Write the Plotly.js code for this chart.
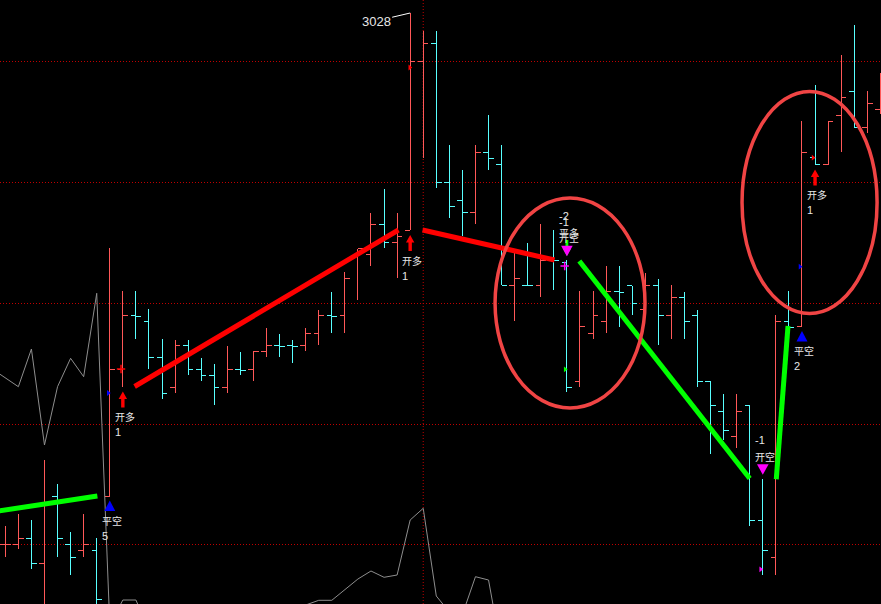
<!DOCTYPE html>
<html><head><meta charset="utf-8">
<script src="https://cdn.plot.ly/plotly-3.0.1.min.js"></script>
<style>
html,body{margin:0;padding:0;background:#000;overflow:hidden}
#chart{width:881px;height:604px}
.ohlclayer path{shape-rendering:crispEdges}
</style></head><body><div id="chart"></div>
<script>
// OHLC bars (index = bar number)
const barOpen  = [2496.5,2496.5,2502.5,2477.5,2544.5,2496.5,2490.5,2490.5,2545,2672,
  2725.5,2720,2683.5,2653.5,2695.5,2671.5,2665.5,2653.5,2671.5,2671.5,
  2689.5,2695.5,2695.5,2695.5,2707.5,2725.5,2725.5,2785,2786.5,2816.5,
  2798.5,2811,2979.5,2997.5,2858.5,2841,2828.5,2888.5,2876.5,2756,
  2756,2756,2781,2779,2659.5,2707.5,2719.5,2749.5,2755.5,2731.5,
  2755.5,2725.5,2743.5,2725.5,2659.5,2629.5,2604.5,2636,2521,2483.5,
  2720,2714.5,2883.5,2876.5,2925.5,2950,2913.5,2931.5];
const barHigh  = [2515,2527,2521,2581,2557,2509,2527,2503,2793,2750,
  2750,2732,2702,2701.5,2701.5,2683.5,2677.5,2695.5,2689.5,2689.5,
  2713.5,2707.5,2701.5,2713.5,2731.5,2749.5,2769.5,2792.5,2828.5,2852.5,
  2828.5,3028,3010,3010,2896,2871,2896,2926,2896,2792.5,
  2798.5,2817,2811,2781,2750,2750,2775,2775,2755.5,2768.5,
  2762.5,2756,2749.5,2731.5,2659.5,2647.5,2647.5,2636,2562.5,2726,
  2750,2920,2956,2920,2986,3016,2950,2968.5];
const barLow   = [2484.5,2492,2472.5,2400,2484.5,2466.5,2484.5,2400,2545,2654.5,
  2702.5,2672.5,2642.5,2648.5,2666,2660.5,2636.5,2648.5,2666.5,2660.5,
  2684.5,2684.5,2678.5,2690.5,2696.5,2708.5,2708.5,2741,2775.5,2793.5,
  2763.5,2811,2883.5,2853.5,2823.5,2805.5,2817.5,2871,2756,2720.5,
  2755.5,2744.5,2751,2649.5,2654.5,2702.5,2708.5,2714.5,2726.5,2729,
  2696.5,2702.5,2702.5,2654.5,2587.5,2601,2593.5,2515.5,2466.5,2466.5,
  2711,2714.5,2876.5,2876.5,2889.5,2913.5,2908.5,2927.5];
const barClose = [2497,2502.5,2477.5,2538,2502.5,2483.5,2496.5,2441.5,2672,2725.5,
  2725,2683.5,2647.5,2695.5,2671.5,2665.5,2653.5,2671.5,2671,2689.5,
  2695.5,2695,2695,2707.5,2725.5,2725,2762.5,2792.5,2816.5,2798.5,
  2804.5,2979.5,2997.5,2858.5,2834.5,2828.5,2888.5,2882.5,2756,2762.5,
  2755.5,2781,2780.5,2653.5,2714.5,2725.5,2749.5,2749,2737.5,2755.5,
  2725.5,2743.5,2719.5,2659.5,2635.5,2610.5,2629.5,2521,2490.5,2720,
  2714,2888.5,2876.5,2920,2943.5,2913.5,2937.5,2950];

// grey indicator line, starting at bar -1
const grayValues = [2672,2663,2654.3,2692,2596,2654.3,2682.7,2664.3,2747.7,2416,
  2441,2441,2411,2395,2390,2398,2402,2395,2400,2405,
  2410,2404,2400,2396,2436,2440.7,2440.7,2451,2462,2470,
  2463.7,2466,2521,2532.7,2445,2429,2426.5,2464.3,2461,2389];

// trend lines [bar, price]
const redTrend1   = [[9.9,2654.5],[30.1,2811]];
const redTrend2   = [[31.95,2811],[42.05,2781]];
const greenTrend1 = [[-1,2529],[7.05,2545]];
const greenTrend2 = [[43.95,2780],[57,2562.5]];
const greenTrend3 = [[59.03,2561.7],[59.93,2715]];

// ellipses [bar0, bar1, price0, price1]
const ellipse1 = [37.5,48.98,2633,2843];
const ellipse2 = [56.41,66.75,2727.5,2949.5];

// grid levels and cursor bar
const gridLevels = [2496.7,2617,2737.7,2858.7,2979.7];
const cursorBar = 32;

// signals
const signalBar  = [8,9,31,43,43,58,61,62];
const signalName = ['平空','开多','开多','开空','平多','开空','平空','开多'];
const signalNum  = ['5','1','1','-1','-2','-1','2','1'];

// small marks
const triMarkX = [7.88,30.97,42.87,57.84,60.85,61.85];
const triMarkY = [2648,2973.5,2671.7,2471.7,2774.3,2883.3];
const triMarkKind = ['平空','开多','平多','开空','平空','开多'];
const crossMarkX = [8.86,42.83];
const crossMarkY = [2672,2775];
const crossMarkKind = ['开多','开空'];

const highLabelBar = 31;

const kindColor = {'开多':'#ff0000','平空':'#0000ff','开空':'#ff00ff','平多':'#00ff00'};
const idx = barOpen.map((_, i) => i);

const traces = [];
traces.push({
  type:'scatter', mode:'lines', x: grayValues.map((_, i) => i - 1), y: grayValues,
  line:{color:'#8e8e8e', width:1}, hoverinfo:'skip'
});
traces.push({
  type:'ohlc', x: idx, open: barOpen, high: barHigh, low: barLow, close: barClose,
  increasing:{line:{color:'#ff5858', width:1}},
  decreasing:{line:{color:'#58ffff', width:1}},
  tickwidth:0.4, hoverinfo:'skip'
});
[[redTrend1,'#ff0000'],[redTrend2,'#ff0000'],[greenTrend1,'#00ff00'],[greenTrend2,'#00ff00'],[greenTrend3,'#00ff00']].forEach(([seg,c]) => {
  traces.push({type:'scatter', mode:'lines', x: seg.map(p=>p[0]), y: seg.map(p=>p[1]),
    line:{color:c, width:5}, hoverinfo:'skip'});
});
traces.push({type:'scatter', mode:'markers', x: triMarkX, y: triMarkY,
  marker:{symbol:'triangle-right', size:5, color: triMarkKind.map(k=>kindColor[k])}, hoverinfo:'skip'});
crossMarkX.forEach((cx, i) => {
  const c = kindColor[crossMarkKind[i]];
  traces.push({type:'scatter', mode:'markers', x:[cx], y:[crossMarkY[i]],
    marker:{symbol:'cross-thin-open', size:6, color:c, line:{width:1.5, color:c}}, hoverinfo:'skip'});
});

const shapes = [];
shapes.push({type:'line', xref:'x', yref:'paper', x0:cursorBar, x1:cursorBar, y0:0, y1:1,
  line:{color:'#c00000', width:1, dash:'1px,2px'}, layer:'below'});
[ellipse1, ellipse2].forEach(e => shapes.push({type:'circle', xref:'x', yref:'y',
  x0:e[0], x1:e[1], y0:e[2], y1:e[3], line:{color:'#f04444', width:3.5}, layer:'above'}));

const glyph = {
  '开多': {anchor:'low',  path:'M0,-5L4.2,-12.6L1.7,-12.6L1.7,-21L-1.7,-21L-1.7,-12.6L-4.2,-12.6Z', name:-30, num:-45.5},
  '平空': {anchor:'low',  path:'M0,-4.5L5.5,-15L-5.5,-15Z', name:-24, num:-39.5},
  '平多': {anchor:'high', path:'M0,4L4.2,11.6L1.4,11.6L1.4,20L-1.4,20L-1.4,11.6L-4.2,11.6Z', name:28, num:44},
  '开空': {anchor:'high', path:'M0,3.7L5.8,14.3L-5.8,14.3Z', name:22.3, num:38.3}
};
const order = ['平多','开多','平空','开空'];
const annotations = [];
order.forEach(kind => {
  signalBar.forEach((b, i) => {
    if (signalName[i] !== kind) return;
    const g = glyph[kind];
    const yv = g.anchor === 'low' ? barLow[b] : barHigh[b];
    shapes.push({type:'path', xref:'x', yref:'y', xsizemode:'pixel', ysizemode:'pixel',
      xanchor:b, yanchor:yv, path:g.path, fillcolor:kindColor[kind],
      line:{color:kindColor[kind], width:0}, layer:'above'});
  });
});
signalBar.forEach((b, i) => {
  const g = glyph[signalName[i]];
  const yv = g.anchor === 'low' ? barLow[b] : barHigh[b];
  annotations.push({x:b, y:yv, xref:'x', yref:'y', text:signalName[i], showarrow:false,
    xanchor:'left', yanchor:'middle', xshift:-10, yshift:g.name,
    font:{family:'Noto Sans CJK SC', size:10, color:'#e6e6e6'}});
  annotations.push({x:b, y:yv, xref:'x', yref:'y', text:signalNum[i], showarrow:false,
    xanchor:'left', yanchor:'middle', xshift:-10, yshift:g.num,
    font:{family:'Liberation Sans', size:11, color:'#e6e6e6'}});
});
annotations.push({x:highLabelBar, y:barHigh[highLabelBar], xref:'x', yref:'y',
  text:String(barHigh[highLabelBar]), showarrow:true, arrowhead:0, arrowwidth:1,
  arrowcolor:'#ffffff', ax:-34, ay:8,
  font:{family:'Liberation Sans', size:13, color:'#e6e6e6'}});

const layout = {
  width:881, height:604,
  margin:{l:0,r:0,t:0,b:0,pad:0},
  paper_bgcolor:'#000', plot_bgcolor:'#000',
  showlegend:false,
  xaxis:{range:[-0.406,67.05], showgrid:false, zeroline:false, showticklabels:false,
    ticks:'', showline:false, rangeslider:{visible:false}, fixedrange:true},
  yaxis:{range:[2437,3041], tickvals:gridLevels, showticklabels:false, ticks:'',
    showgrid:true, gridcolor:'#c00000', griddash:'1px,2px', gridwidth:1,
    zeroline:false, showline:false, fixedrange:true},
  shapes:shapes, annotations:annotations
};
Plotly.newPlot('chart', traces, layout, {displayModeBar:false, staticPlot:true});
</script></body></html>
